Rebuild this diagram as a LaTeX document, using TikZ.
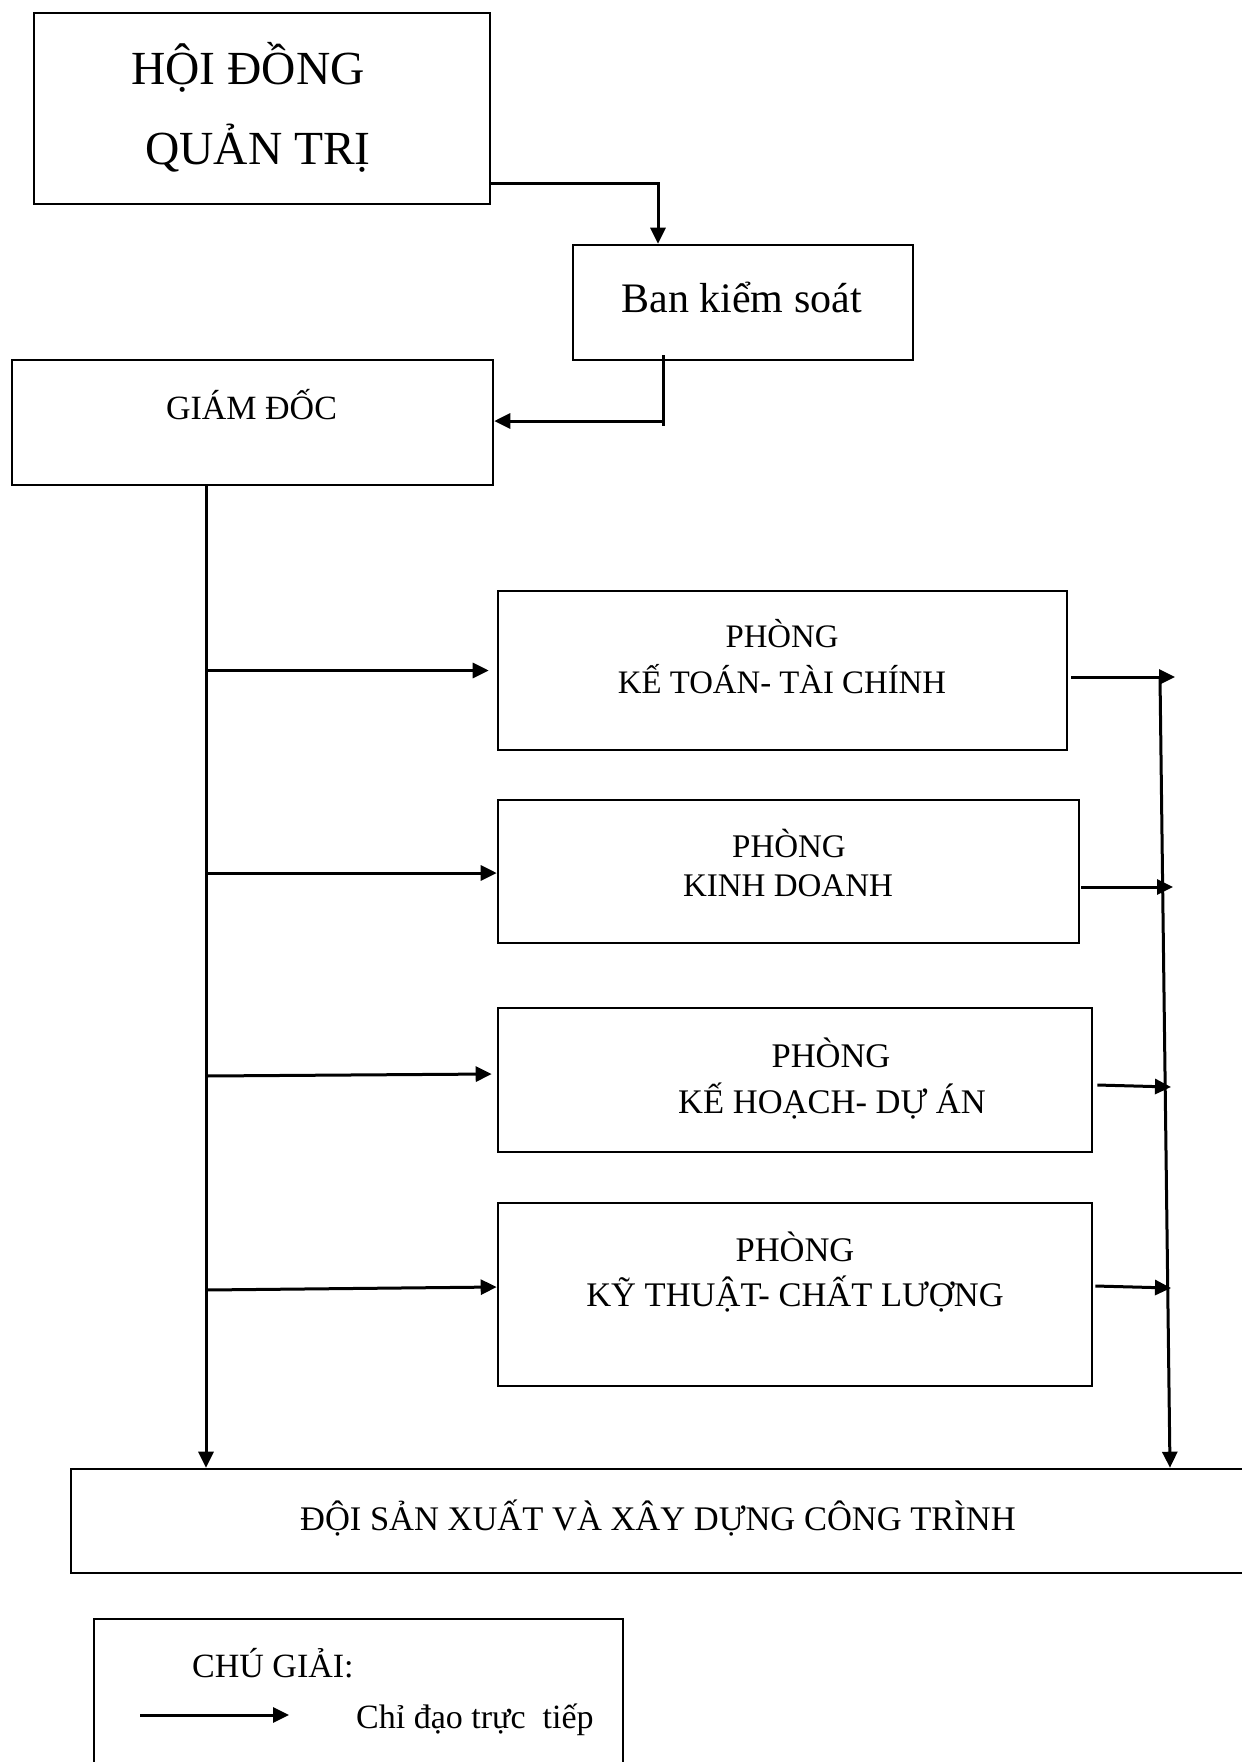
\documentclass[tikz,border=0pt]{standalone}
\usepackage{fontspec}
\setmainfont{Liberation Serif}
\usetikzlibrary{arrows.meta,calc}
\newcommand{\fsz}[1]{\fontsize{#1}{#1}\selectfont}
\tikzset{
  box/.style={draw=black, line width=2.6pt, rectangle, inner sep=0pt},
  conn/.style={draw=black, line width=3pt, -{Triangle[length=16pt,width=15pt]}},
  plain/.style={draw=black, line width=3pt},
  lbl/.style={anchor=base, inner sep=0pt},
}
\begin{document}
\begin{tikzpicture}[x=1pt,y=1pt]
\useasboundingbox (0,0) rectangle (1242,-1762);
\clip (0,0) rectangle (1242,-1762);
\fill[white] (0,0) rectangle (1242,-1762);

% boxes
\node[box, minimum width=456pt, minimum height=191pt] (hdqt) at (262,-108.5) {};
\node[box, minimum width=340pt, minimum height=115pt] (ban) at (743,-302.5) {};
\node[box, minimum width=481pt, minimum height=125pt] (gd) at (252.5,-422.5) {};
\node[box, minimum width=569pt, minimum height=159pt] (pkt) at (782.5,-670.5) {};
\node[box, minimum width=581pt, minimum height=143pt] (kd) at (788.5,-871.5) {};
\node[box, minimum width=594pt, minimum height=144pt] (kh) at (795,-1080) {};
\node[box, minimum width=594pt, minimum height=183pt] (kt) at (795,-1294.5) {};
\node[box, minimum width=1220pt, minimum height=104pt] (dsx) at (681,-1521) {};
\node[box, minimum width=529pt, minimum height=200pt] (leg) at (358.5,-1719) {};

% texts
\node[lbl, font=\fsz{47.5}] (t1a) at (248,-84) {HỘI ĐỒNG};
\node[lbl, font=\fsz{47.5}] (t1b) at (258,-164) {QUẢN TRỊ};
\node[lbl, font=\fsz{42}] (t2) at (741.5,-312) {Ban kiểm soát};
\node[lbl, font=\fsz{34}] (t3) at (251.5,-419) {GIÁM ĐỐC};
\node[lbl, font=\fsz{32.8}] (t4a) at (782,-647) {PHÒNG};
\node[lbl, font=\fsz{32.8}] (t4b) at (782,-693) {KẾ TOÁN- TÀI CHÍNH};
\node[lbl, font=\fsz{33}] (t5a) at (789,-857) {PHÒNG};
\node[lbl, font=\fsz{33}] (t5b) at (788,-896) {KINH DOANH};
\node[lbl, font=\fsz{34.5}] (t6a) at (831,-1067) {PHÒNG};
\node[lbl, font=\fsz{34.5}] (t6b) at (832,-1113) {KẾ HOẠCH- DỰ ÁN};
\node[lbl, font=\fsz{34.5}] (t7a) at (795,-1261) {PHÒNG};
\node[lbl, font=\fsz{34.5}] (t7b) at (795,-1306) {KỸ THUẬT- CHẤT LƯỢNG};
\node[lbl, font=\fsz{34.5}] (t8) at (658,-1530) {ĐỘI SẢN XUẤT VÀ XÂY DỰNG CÔNG TRÌNH};
\node[lbl, anchor=base west, font=\fsz{34}] (t9) at (192,-1677) {CHÚ GIẢI:};
\node[lbl, anchor=base west, font=\fsz{34}] (t10) at (356,-1728) {Chỉ đạo trực\ \ tiếp};

% coordinates
\coordinate (c1) at (658,-183);
\coordinate (c2) at (663,-355);
\coordinate (c3) at (663,-421);
\coordinate (c4) at (663,-426);
\coordinate (t) at (206,0);
\coordinate (r0) at (1160,-677);
\coordinate (r1) at (1170,-1469);
\coordinate (pe) at (1175,-677);
\coordinate (ke) at (1173,-887);
\coordinate (he) at (1171,-1087);
\coordinate (te) at (1171,-1288);
\coordinate (la) at (140,-1715);
\coordinate (lb) at (289,-1715);

% connectors
\draw[conn] (hdqt.east |- c1) -- (c1) -- (ban.north -| c1);
\draw[plain] (c2) -- (c4);
\draw[conn] (c3) -- (gd.east |- c3);
\draw[conn] (gd.south -| t) -- (dsx.north -| t);
\draw[conn] (t |- pkt.west) -- ($(pkt.west)+(-8,0)$);
\draw[conn] ($(t |- kd.west)+(0,-1.5)$) -- ($(kd.west)+(0,-1.5)$);
\draw[conn] ($(t |- kh.west)+(0,4)$) -- ($(kh.west)+(-5,6)$);
\draw[conn] ($(t |- kt.west)+(0,4.5)$) -- ($(kt.west)+(0,7.5)$);
\draw[conn] ($(pkt.east |- pe)+(3,0)$) -- (pe);
\draw[conn] ($(kd.east |- ke)+(1,0)$) -- (ke);
\draw[conn] ($(kh.east)+(4,-5)$) -- (he);
\draw[conn] ($(kt.east)+(2,8.5)$) -- (te);
\draw[conn] (r0) -- (r1 |- dsx.north);
\draw[conn] (la) -- (lb);
\end{tikzpicture}
\end{document}
